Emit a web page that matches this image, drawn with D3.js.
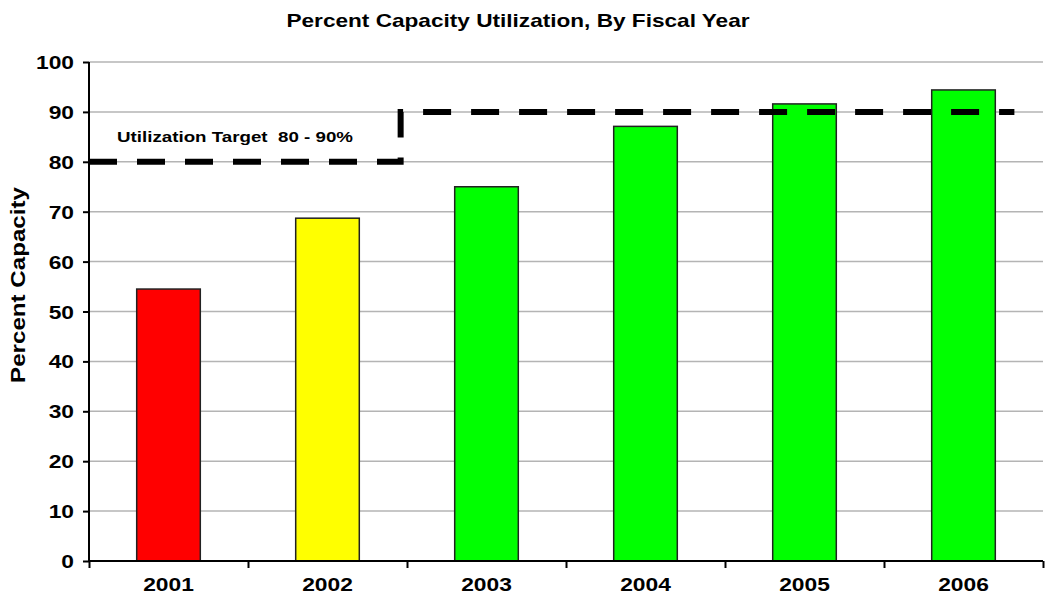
<!DOCTYPE html>
<html>
<head>
<meta charset="utf-8">
<script src="https://cdn.jsdelivr.net/npm/d3@7"></script>
<style>
  body { margin: 0; background: #fff; }
  text { font-family: "Liberation Sans", Arial, sans-serif; font-weight: bold; fill: #000; }
</style>
</head>
<body>
<div id="canvas"></div>
<script>
var width = 1050;
var height = 605;
var margin = { top: 62, right: 7, bottom: 44, left: 89 };
var innerW = width - margin.left - margin.right;
var innerH = height - margin.top - margin.bottom;

var years = ["2001", "2002", "2003", "2004", "2005", "2006"];
var utilization = [54.5, 68.7, 75.0, 87.1, 91.6, 94.4];
var barColors = ["#ff0000", "#ffff00", "#00ff00", "#00ff00", "#00ff00", "#00ff00"];
var yTicks = [0, 10, 20, 30, 40, 50, 60, 70, 80, 90, 100];
// target steps: 80 until between 2002 and 2003, then 90
var targetPoints = [
    { pos: 0, value: 80 },
    { pos: 1.96, value: 80 },
    { pos: 1.96, value: 90 },
    { pos: 5.82, value: 90 }
];

// the original font is wider than Liberation Sans, so stretch text a bit
var stretch = 1.2;

var svg = d3.select("#canvas")
            .append("svg")
            .attr("width", width)
            .attr("height", height);

var canvas = svg.append("g")
            .attr("transform", "translate(" + margin.left + "," + margin.top + ")");

var xScale = d3.scaleBand()
            .domain(years)
            .range([0, innerW])
            .paddingInner(0.6)
            .paddingOuter(0.3);

var yScale = d3.scaleLinear()
            .domain([0, 100])
            .range([innerH, 0]);

// position along the category axis in band units
var posScale = d3.scaleLinear()
            .domain([0, years.length])
            .range([0, innerW]);

function label(parent, x, y, rot, sx, size, anchor, txt) {
    return parent.append("text")
        .attr("transform", "translate(" + x + "," + y + ") rotate(" + rot + ") scale(" + sx + ",1)")
        .attr("text-anchor", anchor)
        .attr("font-size", size)
        .text(txt);
}

// gridlines
canvas.append("g")
    .selectAll("line")
    .data(yTicks.filter(d => d > 0))
    .join("line")
    .attr("x1", 0)
    .attr("x2", innerW)
    .attr("y1", d => yScale(d))
    .attr("y2", d => yScale(d))
    .attr("stroke", "#b4b4b4")
    .attr("stroke-width", 1.5);

// bars
canvas.selectAll("rect.bar")
    .data(years)
    .join("rect")
    .attr("class", "bar")
    .attr("x", d => xScale(d))
    .attr("y", (d, i) => yScale(utilization[i]))
    .attr("width", xScale.bandwidth())
    .attr("height", (d, i) => innerH - yScale(utilization[i]))
    .attr("fill", (d, i) => barColors[i])
    .attr("stroke", "#222")
    .attr("stroke-width", 1.5);

// target line
var line = d3.line()
    .x(d => posScale(d.pos))
    .y(d => yScale(d.value));

canvas.append("path")
    .datum(targetPoints)
    .attr("d", line)
    .attr("fill", "none")
    .attr("stroke", "#000")
    .attr("stroke-width", 6)
    .attr("stroke-dasharray", "28,20");

label(canvas, 28, yScale(85) + 5, 0, 1.25, 15, "start", "Utilization Target\u00a0\u00a080 - 90%");

// y axis
var yAxis = d3.axisLeft(yScale)
    .tickValues(yTicks)
    .tickSize(6)
    .tickFormat("");

var yg = canvas.append("g").call(yAxis);
yg.select(".domain").attr("stroke", "#000").attr("stroke-width", 2).attr("d", "M0," + innerH + "V0");
yg.selectAll(".tick line").attr("stroke", "#000").attr("stroke-width", 2);

yTicks.forEach(t => label(canvas, -15, yScale(t) + 7, 0, stretch, 19, "end", t));

// x axis with ticks at band boundaries
var xAxis = d3.axisBottom(posScale)
    .tickValues(d3.range(0, years.length + 1))
    .tickSize(7)
    .tickFormat("");

var xg = canvas.append("g")
    .attr("transform", "translate(0," + innerH + ")")
    .call(xAxis);
xg.select(".domain").attr("stroke", "#000").attr("stroke-width", 2).attr("d", "M0,0H" + innerW);
xg.selectAll(".tick line").attr("stroke", "#000").attr("stroke-width", 2);

years.forEach(y => label(canvas, xScale(y) + xScale.bandwidth() / 2, innerH + 30, 0, stretch, 19, "middle", y));

// titles
label(svg, 518, 27, 0, 1.19, 19, "middle", "Percent Capacity Utilization, By Fiscal Year");
label(svg, 25, 285, -90, 1.15, 21, "middle", "Percent Capacity");
</script>
</body>
</html>
